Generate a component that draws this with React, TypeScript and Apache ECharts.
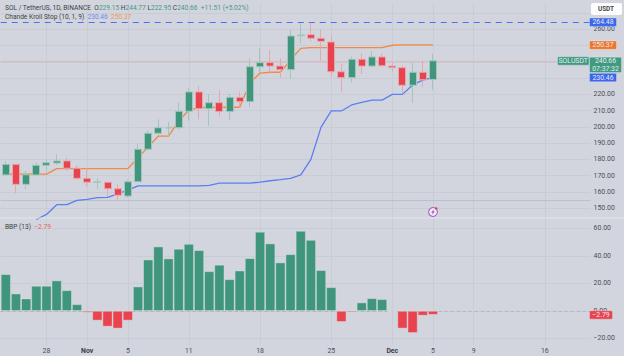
import React, { useEffect, useRef } from "react";
import * as echarts from "echarts";

const days = ["24","25","26","27","28","29","30","31","Nov","2","3","4","5","6","7","8","9","10","11","12","13","14","15","16","17","18","19","20","21","22","23","24b","25","26","27","28","29","30","Dec","2","3","4","5","6","7","8","9","10","11","12","13","14","15","16","17","18","19","20"];
const tickIndexes = [4, 8, 12, 18, 25, 32, 38, 42, 46, 53];
const tickLabels = ["28", "Nov", "5", "11", "18", "25", "Dec", "5", "9", "16"];
const hiddenPriceTicks = [140, 230, 240, 250, 270];
// open, close, low, high
const candles: number[][] = [
  [170.5,177.0,170.3,179.0],[177.0,164.7,159.2,177.2],[164.7,170.6,161.8,172.9],[170.5,176.4,170.3,178.0],
  [176.4,178.0,172.1,180.1],[177.8,179.1,176.6,183.2],[179.1,174.6,172.9,181.1],[174.6,168.4,167.4,176.4],
  [168.4,166.0,163.3,174.6],[166.0,166.2,161.8,168.4],[166.0,162.0,157.7,166.2],[162.0,158.0,155.1,164.9],
  [157.5,166.3,156.5,167.8],[166.3,186.3,166.2,189.9],[186.3,196.1,185.8,197.7],[196.1,199.5,194.4,204.7],
  [199.4,199.5,194.4,203.0],[199.5,209.6,198.5,214.9],[209.6,221.5,203.8,223.7],[221.5,211.2,204.7,225.1],
  [211.2,214.9,200.6,220.2],[214.9,209.4,206.3,222.7],[209.4,218.2,204.3,220.2],[218.2,215.5,212.1,221.6],
  [215.5,237.0,212.1,242.2],[237.0,239.5,233.3,248.3],[239.5,237.4,232.9,247.3],[237.4,235.2,230.3,242.2],
  [235.2,255.9,229.4,259.6],[256.1,256.5,251.4,264.0],[256.7,254.5,252.4,264.0],[254.5,252.6,240.7,259.6],
  [252.2,233.9,230.9,256.5],[233.9,230.3,221.7,239.1],[230.3,241.6,227.2,243.2],[241.6,237.4,232.5,245.2],
  [237.4,243.0,236.4,246.7],[243.0,237.6,237.0,245.2],[237.4,236.4,233.9,239.7],[236.4,225.6,220.7,238.0],
  [225.6,233.6,214.9,239.5],[233.6,229.0,224.4,240.7],[229.15,240.66,222.95,244.77],
];
const stopLong = [170.9,171,171,171,171,174.4,174.4,174.4,174.4,174.4,174.4,174.4,174.4,180.9,187.7,194.4,194.4,203.6,210.4,211.9,212.1,212.1,212.1,212.1,227.0,233.1,233.6,233.6,241.1,248.3,248.7,248.7,248.7,248.7,248.7,248.7,248.7,248.7,250.2,250.37,250.37,250.37,250.37];
const stopShort = [null,null,null,143.1,146.2,152.2,152.2,154.9,155.5,156.5,156.7,158.8,161.2,163.7,163.7,163.7,163.7,163.7,163.7,163.7,164.1,165.4,165.4,165.4,165.4,166.1,166.9,167.6,168.4,170.5,180.1,199.9,209.8,209.8,213.5,215.1,216.5,216.5,220.0,220.0,225.8,228.8,230.46];
const bbp = [26.7,12.6,9.0,18.2,18.2,22.1,15.0,4.8,-1.2,-7.0,-11.4,-12.8,-7.0,17.7,37.3,46.8,38.1,45.1,48.7,44.1,28.8,33.5,23.0,29.3,38.3,57.5,49.0,35.2,41.2,58.2,51.6,29.6,17.2,-8.0,-1.0,6.1,9.2,8.5,-0.5,-12.8,-16.0,-3.4,-2.79];
const highLine = 264.48;
const lastClose = 240.66;
const hLine = 155;

const FONT = "Roboto, 'Liberation Sans', sans-serif";
const RED = "#e8434f";
const BLUE = "#5b7ff0";
const ORANGE = "#f08a45";
const GRID = "#c9ccd5";
const LEFT = 0.73;
const WIDTH = 589.86;
const AXIS_FONT = 6.9;
const LEGEND_FONT = 6.6;

export default function App() {
  const ref = useRef<HTMLDivElement>(null);
  useEffect(() => {
    const chart = echarts.init(ref.current!, null, { renderer: "svg" });
    const hiddenX = (gridIndex: number) => ({
      type: "category" as const, gridIndex, data: days, show: false,
    });
    chart.setOption({
      animation: false,
      backgroundColor: "#d2d5dd",
      textStyle: { fontFamily: FONT },
      grid: [
        { left: LEFT, width: WIDTH, top: 13.03, height: 211.5 },
        { left: LEFT, width: WIDTH, top: 228.4, height: 110 },
        { left: LEFT, width: WIDTH, top: 3, height: 342 },
      ],
      xAxis: [
        hiddenX(0),
        hiddenX(1),
        {
          type: "category", gridIndex: 2, data: days, position: "bottom",
          axisLine: { show: false }, axisTick: { show: false },
          splitLine: {
            show: true, alignWithLabel: true,
            interval: (i: number) => tickIndexes.includes(i),
            lineStyle: { color: GRID, width: 1 },
          },
          axisLabel: {
            margin: 2, fontSize: AXIS_FONT, color: "#4a4e5a", fontFamily: FONT,
            interval: (i: number) => tickIndexes.includes(i),
            hideOverlap: false,
            formatter: (_: string, i: number) => {
              const t = tickLabels[tickIndexes.indexOf(i)] ?? "";
              return t === "Nov" || t === "Dec" ? `{b|${t}}` : t;
            },
            rich: { b: { fontWeight: "bold", fontSize: AXIS_FONT, color: "#3a3e4a", fontFamily: FONT } },
          },
        },
      ],
      yAxis: [
        {
          type: "value", gridIndex: 0, position: "right", min: 140, max: 270, interval: 10,
          axisLine: { show: false }, axisTick: { show: false },
          splitLine: { showMinLine: false, lineStyle: { color: GRID } },
          axisLabel: {
            margin: 3, fontSize: AXIS_FONT, color: "#4a4e5a", fontFamily: FONT,
            formatter: (v: number) => hiddenPriceTicks.includes(v) ? "" : v.toFixed(2),
          },
        },
        {
          type: "value", gridIndex: 1, position: "right", min: -20, max: 60, interval: 20,
          axisLine: { show: false }, axisTick: { show: false },
          splitLine: { lineStyle: { color: GRID } },
          axisLabel: {
            margin: 3, fontSize: AXIS_FONT, color: "#4a4e5a", fontFamily: FONT,
            formatter: (v: number) => v.toFixed(2).replace("-", "\u2212"),
          },
        },
        { type: "value", gridIndex: 2, show: false, min: 0, max: 1, splitLine: { show: false } },
      ],
      series: [
        {
          type: "line", xAxisIndex: 2, yAxisIndex: 2, data: [], silent: true,
        },
        {
          type: "line", xAxisIndex: 0, yAxisIndex: 0, data: stopShort, showSymbol: false, z: 3,
          lineStyle: { color: BLUE, width: 1.3 }, itemStyle: { color: BLUE },
          markLine: {
            silent: true, symbol: "none", label: { show: false }, z: 1,
            data: [
              { yAxis: highLine, lineStyle: { color: "#4a72f0", type: [6, 5], width: 1.1 } },
              { yAxis: lastClose, lineStyle: { color: "#deb9bd", type: "solid", width: 1 } },
              { yAxis: hLine, lineStyle: { color: "#bcc0c9", type: "solid", width: 1 } },
            ],
          },
        },
        {
          type: "line", xAxisIndex: 0, yAxisIndex: 0, data: stopLong, showSymbol: false, z: 3,
          lineStyle: { color: ORANGE, width: 1.3 }, itemStyle: { color: ORANGE },
        },
        {
          type: "candlestick", xAxisIndex: 0, yAxisIndex: 0, data: candles, barWidth: 7.5, z: 4,
          itemStyle: {
            color: "#3f967d", color0: RED, borderColor: "#a3c6ba", borderColor0: "#e3a9ae",
            borderColorDoji: "#a3c6ba", borderWidth: 1,
          },
        },
        {
          type: "bar", xAxisIndex: 1, yAxisIndex: 1, data: bbp, barWidth: 10, z: 3,
          itemStyle: {
            color: (p: any) => (p.value >= 0 ? "#3f967d" : RED),
            borderColor: "rgba(225,232,232,0.6)", borderWidth: 0.7,
          },
          markLine: {
            silent: true, symbol: "none", label: { show: false }, z: 1,
            data: [{ yAxis: 0, lineStyle: { color: "#b3b6bd", type: [3, 3], width: 1 } }],
          },
        },
      ],
    });

    const py = (v: number) => chart.convertToPixel({ yAxisIndex: 0 }, v) as number;
    const by = (v: number) => chart.convertToPixel({ yAxisIndex: 1 }, v) as number;
    const tag = (x: number, y: number, w: number, h: number, fill: string, text: string, color = "#e6eaf0") => ({
      type: "group", x, y, z: 20,
      children: [
        { type: "rect", z: 20, shape: { x: 0, y: 0, width: w, height: h, r: 1 }, style: { fill, stroke: "rgba(235,238,242,0.6)", lineWidth: 0.6 } },
        { type: "text", z: 21, x: w / 2, y: h / 2, style: { text, fill: color, font: `${AXIS_FONT}px ${FONT}`, align: "center", verticalAlign: "middle", lineHeight: 7.4 } },
      ],
    });
    const rich = (c: string) => ({ fill: c, fontSize: LEGEND_FONT, fontFamily: FONT });
    chart.setOption({
      graphic: [
        {
          type: "line", z: 5, shape: { x1: 0, y1: 218, x2: 624, y2: 218 },
          style: { stroke: "#e4e6eb", lineWidth: 1 },
        },
        {
          type: "text", x: 5, y: 8, z: 20,
          style: {
            text: "{d|SOL / TetherUS, 1D, BINANCE  O}{g|229.15 }{d|H}{g|244.77 }{d|L}{g|222.95 }{d|C}{g|240.66  +11.51 (+5.02%)}",
            verticalAlign: "middle",
            rich: { d: rich("#3c3f48"), g: rich("#4a977f") },
          },
        },
        {
          type: "text", x: 5, y: 17, z: 20,
          style: {
            text: "{d|Chande Kroll Stop (10, 1, 9)  }{b|230.46  }{o|250.37}",
            verticalAlign: "middle",
            rich: { d: rich("#3c3f48"), b: rich("#6d8cf0"), o: rich("#ee9a60") },
          },
        },
        {
          type: "text", x: 5, y: 226.5, z: 20,
          style: {
            text: "{d|BBP (13)  }{r|\u22122.79}", verticalAlign: "middle",
            rich: { d: rich("#3c3f48"), r: rich("#e8636c") },
          },
        },
        {
          type: "group", z: 20, children: [
            { type: "rect", z: 20, shape: { x: 591, y: 3, width: 31, height: 12, r: 2 }, style: { fill: "#fdfdfe" } },
            { type: "text", z: 21, x: 606, y: 9, style: { text: "USDT", fill: "#43464f", font: `bold 6.4px ${FONT}`, align: "center", verticalAlign: "middle" } },
          ],
        },
        tag(589.5, py(highLine) - 4, 27, 8.4, "#3c66ee", highLine.toFixed(2)),
        tag(589.5, py(250.37) - 4, 27, 8.4, "#f0762c", "250.37"),
        tag(589.5, py(230.46) - 4, 27, 8.4, "#3c66ee", "230.46"),
        tag(557.5, py(lastClose) - 4, 31.5, 8.4, "#3f9a80", "SOLUSDT"),
        tag(589.5, py(lastClose) - 3.6, 32, 15.4, "#3f9a80", `${lastClose.toFixed(2)}\n07:37:32`),
        tag(589.5, by(-2.79) - 4, 23, 8.4, "#e8434f", "\u22122.79"),
        {
          type: "group", z: 20, x: 433, y: 212, children: [
            { type: "circle", shape: { cx: 0, cy: 0, r: 4.4 }, style: { fill: "#f3edf7", stroke: "#a85fc9", lineWidth: 1.1 } },
            { type: "polygon", z: 21, shape: { points: [[1, -3], [-1.8, 0.6], [-0.2, 0.6], [-1, 3], [1.8, -0.6], [0.2, -0.6]] }, style: { fill: "#9a4fc0" } },
            { type: "circle", z: 21, shape: { cx: 3.3, cy: -3.6, r: 1.2 }, style: { fill: "#e8434f" } },
          ],
        },
      ],
    });
    return () => chart.dispose();
  }, []);
  return <div ref={ref} style={{ position: "absolute", left: 0, top: 0, width: 624, height: 356 }} />;
}
